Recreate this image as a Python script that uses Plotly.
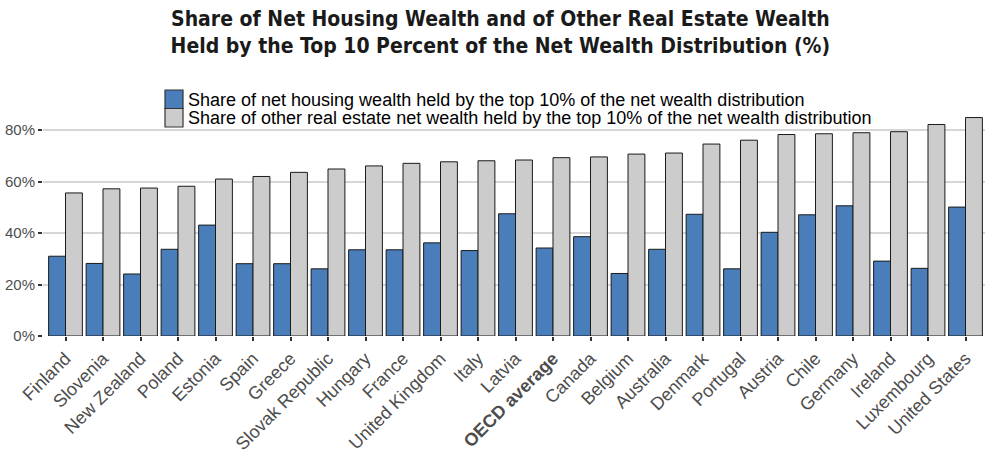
import plotly.graph_objects as go

countries = ["Finland", "Slovenia", "New Zealand", "Poland", "Estonia", "Spain", "Greece",
             "Slovak Republic", "Hungary", "France", "United Kingdom", "Italy", "Latvia",
             "OECD average", "Canada", "Belgium", "Australia", "Denmark", "Portugal",
             "Austria", "Chile", "Germany", "Ireland", "Luxembourg", "United States"]
housing = [31.0, 28.2, 24.1, 33.7, 43.1, 28.1, 28.1, 26.1, 33.5, 33.5, 36.2, 33.2, 47.5,
           34.2, 38.6, 24.3, 33.7, 47.3, 26.1, 40.3, 47.1, 50.6, 29.1, 26.3, 50.1]
other_re = [55.6, 57.2, 57.5, 58.2, 61.0, 62.0, 63.6, 64.9, 66.1, 67.1, 67.7, 68.1, 68.4,
            69.3, 69.6, 70.7, 71.1, 74.6, 76.1, 78.3, 78.6, 79.0, 79.4, 82.2, 84.9]
series_names = ["Share of net housing wealth held by the top 10% of the net wealth distribution",
                "Share of other real estate net wealth held by the top 10% of the net wealth distribution"]
y_ticks = [0, 20, 40, 60, 80]
y_tick_labels = ["0%", "20%", "40%", "60%", "80%"]

colors = ["#4A7EBB", "#CCCCCC"]
outline = "#1a1a1a"

tick_text = ["<b>%s</b>" % c if c == "OECD average" else c for c in countries]

W, H = 985, 466
L, R, T, B = 43, 0, 116, 130
plot_w = W - L - R
plot_h = H - T - B


def px_x(x):
    return (x - L) / plot_w


def px_y(y):
    return (H - B - y) / plot_h


fig = go.Figure()
for vals, name, col in zip([housing, other_re], series_names, colors):
    fig.add_trace(go.Bar(x=countries, y=vals, name=name, showlegend=False,
                         marker=dict(color=col, line=dict(color=outline, width=1))))

# legend drawn as key boxes + text
shapes = []
annotations = []
box_top = [90, 108.5]
for i, (name, col) in enumerate(zip(series_names, colors)):
    y0 = box_top[i]
    shapes.append(dict(type="rect", xref="paper", yref="paper",
                       x0=px_x(165), x1=px_x(183), y0=px_y(y0 + 18.5), y1=px_y(y0),
                       fillcolor=col, line=dict(color="#333333", width=1.2), layer="above"))
    annotations.append(dict(text=name, xref="paper", yref="paper",
                            x=px_x(186), y=px_y(y0 + 9.5), xanchor="left", yanchor="middle",
                            showarrow=False,
                            font=dict(family="Arial, Liberation Sans, sans-serif", size=18,
                                      color="#000000")))

fig.update_layout(
    width=W, height=H,
    margin=dict(l=L, r=R, t=T, b=B, pad=0, autoexpand=False),
    paper_bgcolor="white", plot_bgcolor="white",
    barmode="group", bargap=0.1, bargroupgap=0,
    font=dict(family="Arial, Liberation Sans, sans-serif", color="#4D4D4D"),
    title=dict(
        text="<b>Share of Net Housing Wealth and of Other Real Estate Wealth<br>"
             "Held by the Top 10 Percent of the Net Wealth Distribution (%)</b>",
        font=dict(family="DejaVu Sans Condensed, Liberation Sans Narrow, sans-serif",
                  size=21, color="#1a1a1a"),
        x=0.508, xref="container", xanchor="center",
        y=0.945, yref="container", yanchor="top",
    ),
    shapes=shapes,
    annotations=annotations,
    showlegend=False,
)

fig.update_xaxes(
    range=[-0.6, 24.52], automargin=False,
    tickmode="array", tickvals=countries, ticktext=tick_text,
    tickangle=-45, tickfont=dict(size=18, color="#4D4D4D"),
    ticks="outside", ticklen=4, tickwidth=2, tickcolor="#333333",
    showgrid=False, showline=False, zeroline=False,
)
fig.update_yaxes(
    range=[0, 85.5], automargin=False,
    tickmode="array", tickvals=y_ticks, ticktext=y_tick_labels,
    tickfont=dict(size=15, color="#4D4D4D"),
    ticks="outside", ticklen=4, tickwidth=1.5, tickcolor="#333333",
    showgrid=True, gridcolor="#D6D6D6", gridwidth=1.5,
    showline=False, zeroline=False,
)

fig.write_html("out.html", config={"displayModeBar": False},
               post_script="document.body.style.margin='0';document.body.style.overflow='hidden';")
